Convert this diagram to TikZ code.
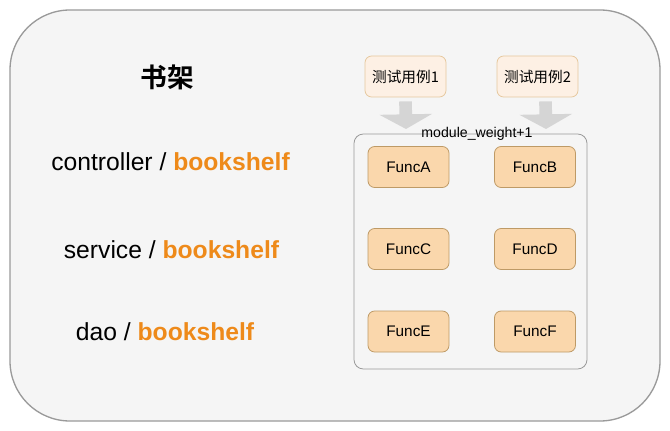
\documentclass[tikz,border=0pt]{standalone}
\usepackage{fontspec}
\setmainfont{Liberation Sans}
\newfontfamily\cjk{Noto Sans CJK SC}
\newfontfamily\cjkb{Noto Sans CJK SC}[UprightFont=* Bold]
\usetikzlibrary{arrows.meta}
\definecolor{bgfill}{HTML}{F5F5F5}
\definecolor{bgline}{HTML}{9A9A9A}
\definecolor{tcfill}{HTML}{FDF0E4}
\definecolor{tcline}{HTML}{E6C89E}
\definecolor{fnfill}{HTML}{FAD7AC}
\definecolor{fnline}{HTML}{BE9A66}
\definecolor{orangetxt}{HTML}{EE8A1A}
\definecolor{arrowgray}{HTML}{D5D5D5}
\tikzset{
  testbox/.style={draw=tcline, fill=tcfill, rounded corners=5pt, line width=0.6pt,
    minimum width=60.75pt, minimum height=30.75pt, inner sep=0pt, font=\cjk\fontsize{11}{13}\selectfont},
  funcbox/.style={draw=fnline, fill=fnfill, rounded corners=5pt, line width=0.6pt,
    minimum width=60.75pt, minimum height=30.75pt, inner sep=0pt, font=\fontsize{11.5}{13}\selectfont},
  layerlabel/.style={inner sep=0pt, font=\fontsize{18.5}{22}\selectfont},
  blockarrow/.style={draw=arrowgray, line width=9.5pt, -{Triangle[width=39pt,length=11pt]}, arrowgray},
}
\begin{document}
\begin{tikzpicture}[x=0.75pt,y=-0.75pt]
\useasboundingbox (0,0) rectangle (670,431);
% outer panel
\draw[draw=bgline, fill=bgfill, line width=1pt, rounded corners=45pt] (10,10) rectangle (660,421);
% inner group box
\draw[draw=bgline, fill=bgfill, line width=0.6pt, rounded corners=7pt] (354,134) rectangle (587,369);
% labels
\node[inner sep=0pt, font=\cjkb\fontsize{20}{24}\selectfont] (title) at (167,77) {书架};
\node[layerlabel] (l1) at (170.5,162) {controller / \textcolor{orangetxt}{\bfseries bookshelf}};
\node[layerlabel] (l2) at (171.5,250) {service / \textcolor{orangetxt}{\bfseries bookshelf}};
\node[layerlabel] (l3) at (165,332) {dao / \textcolor{orangetxt}{\bfseries bookshelf}};
% test cases
\node[testbox] (t1) at (405.5,76.5) {测试用例1};
\node[testbox] (t2) at (537.5,76.5) {测试用例2};
% arrows
\coordinate (a1s) at ([yshift=-3pt]t1.south);
\coordinate (a1e) at (406,129);
\coordinate (a2s) at ([xshift=6pt,yshift=-3pt]t2.south);
\coordinate (a2e) at (546,129);
\draw[blockarrow] (a1s) -- (a1e);
\draw[blockarrow] (a2s) -- (a2e);
% label on the group box
\node[inner sep=0pt, font=\fontsize{10.6}{12}\selectfont] (mw) at (477,134) {module\_weight+1};
% functions
\node[funcbox] (fa) at (408.5,167) {FuncA};
\node[funcbox] (fb) at (535,167) {FuncB};
\node[funcbox] (fc) at (408.5,249) {FuncC};
\node[funcbox] (fd) at (535,249) {FuncD};
\node[funcbox] (fe) at (408.5,331.5) {FuncE};
\node[funcbox] (ff) at (535,331.5) {FuncF};
\end{tikzpicture}
\end{document}
